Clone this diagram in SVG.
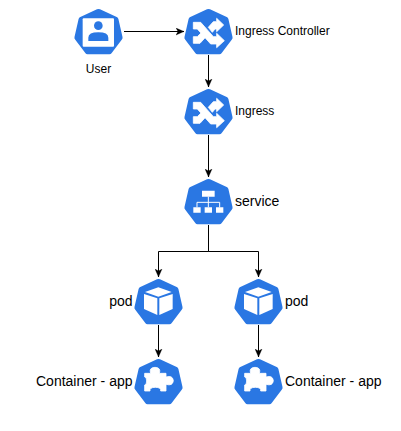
<svg xmlns="http://www.w3.org/2000/svg" width="401" height="431" viewBox="0 0 401 431">
<style>
text{font-family:"Liberation Sans",Arial,sans-serif;fill:#000}
.s{font-size:12px}.m{font-size:14px}
.c{fill:none;stroke:#000;stroke-width:1}
.w{fill:#fff}.t{fill:#fff;stroke:#fff;stroke-width:2.500;stroke-linejoin:round}.l{fill:none;stroke:#fff;stroke-width:3}
.b{fill:#2a77e3}
</style>
<defs>
<marker id="a" markerWidth="9" markerHeight="8" refX="8" refY="4" orient="auto" markerUnits="userSpaceOnUse"><path d="M0 .5L8 4L0 7.500L2 4Z" fill="#000" stroke="#000" stroke-width=".3"/></marker>
<path id="hep" class="b" d="M-1.500 .3Q0 -.3 1.500 .3L18.200 8Q19.500 8.700 19.900 10L24 28Q24.300 29.500 23.400 30.600L13 44.200Q12.300 45.200 11 45.200H-11Q-12.300 45.200 -13 44.200L-23.400 30.600Q-24.300 29.500 -24 28L-19.900 10Q-19.500 8.700 -18.200 8Z"/>
<g id="shuffle" transform="translate(-28.500 -4) scale(.3333)">
<path class="t" d="M40 52H62L100 95H110V85L133 107L110 128V117H92L52 72H40Z"/>
<path class="t" d="M40 95H52L66 81L78 95L60 115H40Z"/>
<path class="t" d="M85 67L100 50H110V40L131 60L110 80V72H105L97 82Z"/>
</g>
<g id="cube" transform="translate(-28.500 -4) scale(.3333)">
<path class="w" d="M85 37L125 51L85 65L45 51Z"/>
<path class="w" d="M42 57L82 70V120L42 102Z"/>
<path class="w" d="M88 70L128 57V102L88 120Z"/>
</g>
<path id="puzzle" class="t" transform="translate(-28.500 -4) scale(.3333)" d="M62 55Q56 38 75 37Q94 38 88 55H108V66Q128 60 130 77Q128 94 108 88V108H92Q94 97 76 97Q58 97 60 108H44V90Q50 90 50 78Q50 66 44 66V55Z"/>
</defs>
<g id="connectors">
<path class="c" marker-end="url(#a)" d="M124 31.500H184"/>
<path class="c" marker-end="url(#a)" d="M208.500 55V87"/>
<path class="c" marker-end="url(#a)" d="M208.500 135V177"/>
<path class="c" marker-end="url(#a)" d="M208.500 225V251.500H158.500V277"/>
<path class="c" marker-end="url(#a)" d="M208.500 225V251.500H258.500V277"/>
<path class="c" marker-end="url(#a)" d="M158.500 325V357"/>
<path class="c" marker-end="url(#a)" d="M258.500 325V357"/>
</g>
<g id="user" transform="translate(98.500 9)">
<use href="#hep"/>
<g transform="translate(-28.500 -4) scale(.3333)">
<rect class="w" x="38" y="40" width="94" height="85" rx="3"/>
<circle class="b" cx="85" cy="62" r="13"/>
<path class="b" d="M55 108V98Q55 82 85 82Q115 82 115 98V108Z"/>
</g>
<text class="s" x="0" y="64" text-anchor="middle">User</text>
</g>
<g id="ingress-controller" transform="translate(208.500 9)">
<use href="#hep"/><use href="#shuffle"/>
<text class="s" x="26.500" y="26">Ingress Controller</text>
</g>
<g id="ingress" transform="translate(208.500 89)">
<use href="#hep"/><use href="#shuffle"/>
<text class="s" x="26.500" y="26">Ingress</text>
</g>
<g id="service" transform="translate(208.500 179)">
<use href="#hep"/>
<g transform="translate(-28.500 -4) scale(.3333)">
<path class="w" d="M66 47H104V65H66ZM40 97H62V113H40ZM74 97H96V113H74ZM108 97H130V113H108Z"/>
<path class="l" d="M85 65V97M51 97V82H119V97"/>
</g>
<text class="m" x="26.500" y="27">service</text>
</g>
<g id="pod-left" transform="translate(158.500 279)">
<use href="#hep"/><use href="#cube"/>
<text class="m" x="-26" y="27" text-anchor="end">pod</text>
</g>
<g id="pod-right" transform="translate(258.500 279)">
<use href="#hep"/><use href="#cube"/>
<text class="m" x="26.500" y="27">pod</text>
</g>
<g id="container-left" transform="translate(158.500 359)">
<use href="#hep"/><use href="#puzzle"/>
<text class="m" x="-26" y="27" text-anchor="end">Container - app</text>
</g>
<g id="container-right" transform="translate(258.500 359)">
<use href="#hep"/><use href="#puzzle"/>
<text class="m" x="26.500" y="27">Container - app</text>
</g>
</svg>
